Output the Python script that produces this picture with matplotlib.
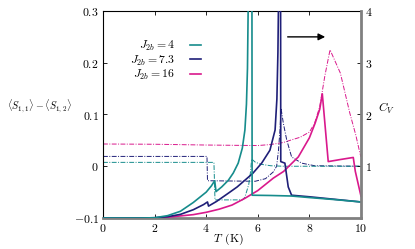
import matplotlib
matplotlib.use("Agg")
import matplotlib.pyplot as plt
from matplotlib.ticker import FixedLocator, FuncFormatter
from matplotlib.lines import Line2D

plt.rcParams['mathtext.fontset'] = 'cm'
plt.rcParams['font.family'] = 'serif'
plt.rcParams['font.serif'] = ['DejaVu Serif']

# ---------------- data ----------------
labels = [r"$J_{2b} = 4$", r"$J_{2b} = 7.3$", r"$J_{2b} = 16$"]
colors = ["#168c8c", "#1f1f78", "#d9198c"]

# specific heat C_V (right axis, solid)
T_cv_4 = [0, 1.0, 1.5, 2.0, 2.5, 3.0, 3.5, 4.0, 4.2, 4.33, 4.38, 4.6, 4.86, 5.05, 5.24,
          5.4, 5.5, 5.56, 5.6, 5.63, 5.65, 5.77, 5.78, 6.5, 7.3, 8.0, 9.0, 10.0]
cv_4 = [0, 0, 0.0, 0.005, 0.045, 0.13, 0.30, 0.50, 0.62, 0.72, 0.51, 0.60, 0.73, 0.87, 1.06,
        1.35, 1.70, 2.2, 2.9, 4.2, 6.0, 6.0, 0.44, 0.435, 0.425, 0.395, 0.355, 0.31]

T_cv_73 = [0, 1.0, 1.5, 2.0, 2.5, 3.0, 3.5, 3.9, 4.05, 4.09, 4.4, 4.86, 5.2, 5.5, 5.8, 6.15,
           6.47, 6.67, 6.74, 6.78, 6.81, 6.83, 6.88, 6.89, 7.05, 7.18, 7.31, 8.0, 9.0, 10.0]
cv_73 = [0, 0, 0.0, 0.005, 0.025, 0.07, 0.16, 0.26, 0.31, 0.23, 0.32, 0.48, 0.60, 0.73, 0.86, 1.06,
         1.31, 1.70, 2.3, 3.2, 4.5, 6.0, 6.0, 1.09, 1.06, 0.60, 0.44, 0.41, 0.36, 0.31]

T_cv_16 = [0, 1.0, 1.5, 2.0, 2.5, 3.0, 3.5, 4.0, 4.5, 5.0, 5.5, 5.83, 6.0, 6.6, 7.0, 7.57,
           8.0, 8.22, 8.4, 8.5, 8.73, 9.2, 9.7, 9.78, 10.0]
cv_16 = [0, 0, 0.0, 0.003, 0.015, 0.04, 0.065, 0.11, 0.17, 0.25, 0.38, 0.48, 0.53, 0.77, 0.90, 1.18,
         1.55, 1.83, 2.1, 2.40, 1.09, 1.13, 1.17, 0.9, 0.42]

# order parameter <S11>-<S12> (left axis, dash-dot)
T_s_4 = [0, 4.3, 4.34, 5.4, 5.5, 5.65, 5.72, 5.76, 5.9, 6.1, 6.5, 7.0, 10.0]
s_4 = [0.0075, 0.0075, -0.065, -0.065, -0.06, -0.035, -0.01, 0.014, 0.008, 0.004, 0.001, 0.0, 0.0]

T_s_73 = [0, 4.03, 4.05, 5.9, 6.3, 6.6, 6.73, 6.8, 6.86, 6.9, 6.99, 7.12, 7.31, 7.7, 8.2, 10.0]
s_73 = [0.019, 0.019, -0.028, -0.029, -0.024, -0.011, 0.0, 0.03, 0.07, 0.112, 0.083, 0.051,
        0.018, 0.006, 0.001, 0.0]

T_s_16 = [0, 2.0, 4.0, 6.0, 6.5, 7.0, 7.31, 7.64, 8.0, 8.2, 8.4, 8.6, 8.8, 9.2, 9.57, 9.8, 9.96, 10.0]
s_16 = [0.043, 0.0425, 0.041, 0.040, 0.042, 0.046, 0.051, 0.056, 0.066, 0.083, 0.115, 0.175,
        0.225, 0.18, 0.102, 0.06, 0.025, 0.018]

x_ticks = [0, 2, 4, 6, 8, 10]
left_ticks = [-0.1, 0, 0.1, 0.2, 0.3]
left_tick_labels = [r"$-0.1$", r"$0$", r"$0.1$", r"$0.2$", r"$0.3$"]
right_ticks = [1, 2, 3, 4]

# ---------------- figure ----------------
fig = plt.figure(figsize=(4.15, 2.49), dpi=100)
ax = fig.add_axes([103 / 415, 1 - 218 / 249, 258 / 415, 207 / 249])
ax2 = ax.twinx()

dd = (0, (5, 1.5, 1, 1.5))
for T, s, c in [(T_s_16, s_16, colors[2]), (T_s_73, s_73, colors[1]), (T_s_4, s_4, colors[0])]:
    ax.plot(T, s, color=c, lw=0.7, linestyle=dd)

for T, cv, c in [(T_cv_16, cv_16, colors[2]), (T_cv_73, cv_73, colors[1]), (T_cv_4, cv_4, colors[0])]:
    ax2.plot(T, cv, color=c, lw=1.2)

ax.set_xlim(0, 10)
ax.set_ylim(-0.1, 0.3)
ax2.set_ylim(0, 4)

fs = 8.5
ax.xaxis.set_major_locator(FixedLocator(x_ticks))
ax.xaxis.set_major_formatter(FuncFormatter(lambda v, p: r"$%d$" % v))
ax.set_yticks(left_ticks)
ax.set_yticklabels(left_tick_labels)
ax2.set_yticks(right_ticks)
ax2.yaxis.set_major_formatter(FuncFormatter(lambda v, p: r"$%d$" % v))

ax.tick_params(axis='x', direction='in', top=True, length=3, width=0.6, labelsize=fs, pad=3)
ax.tick_params(axis='y', direction='in', length=3, width=0.6, labelsize=fs, pad=3)
ax2.tick_params(axis='y', direction='in', length=3, width=0.6, labelsize=fs, pad=3)

for sp in ['top', 'left']:
    ax.spines[sp].set_linewidth(0.8)
    ax.spines[sp].set_color('black')
    ax2.spines[sp].set_visible(False)
ax.spines['bottom'].set_color('#808080')
ax.spines['bottom'].set_linewidth(2.0)
ax.spines['right'].set_visible(False)
ax2.spines['bottom'].set_visible(False)
ax2.spines['right'].set_color('#808080')
ax2.spines['right'].set_linewidth(2.0)

fig.text(228 / 415, 1 - 239 / 249, r"$T\;\,\mathrm{(K)}$", fontsize=fs, ha='center', va='center')
fig.text(39 / 415, 1 - 106 / 249, r"$\langle S_{1,1}\rangle - \langle S_{1,2}\rangle$",
         fontsize=7.2, ha='center', va='center')
fig.text(386 / 415, 1 - 108 / 249, r"$C_V$", fontsize=fs, ha='center', va='center')

ax.annotate("", xy=(8.72, 0.25), xytext=(7.05, 0.25),
            arrowprops=dict(arrowstyle='-|>', color='black', lw=1.0, mutation_scale=10))

handles = [Line2D([], [], color=c, lw=1.2) for c in colors]
ax2.legend(handles, labels, loc='upper right', bbox_to_anchor=(0.41, 0.905), frameon=False,
           markerfirst=False, handlelength=0.9, handletextpad=1.3, labelspacing=0.05,
           fontsize=fs, borderpad=0.2)

fig.savefig("out.png", dpi=100)
